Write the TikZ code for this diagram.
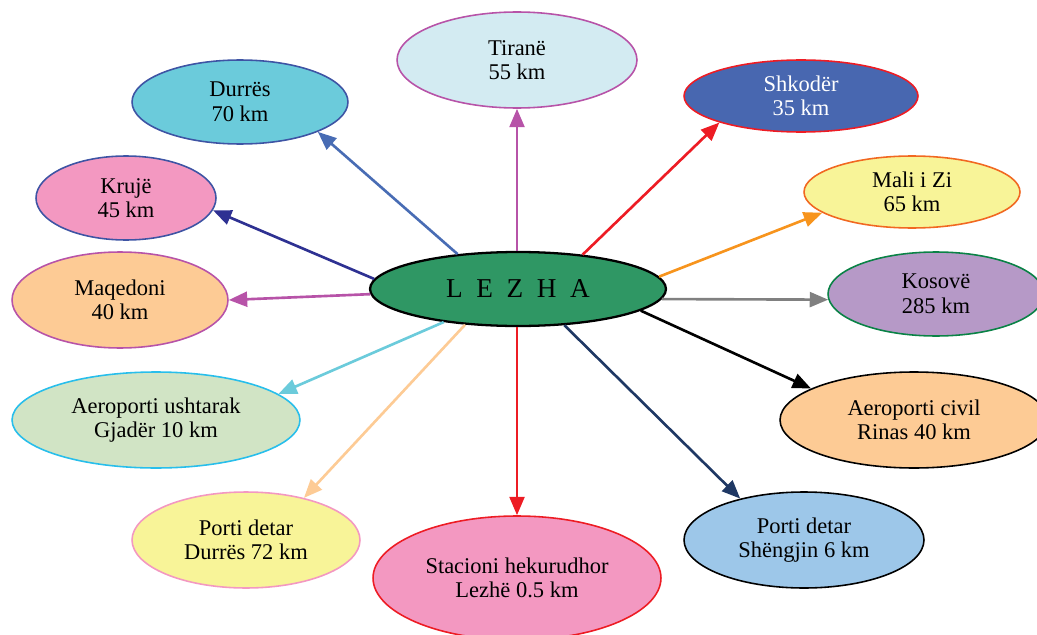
\documentclass[tikz,border=0pt]{standalone}
\usepackage{fontspec}
\setmainfont{Liberation Serif}
\usetikzlibrary{arrows.meta, shapes.geometric}
\definecolor{cPurple}{RGB}{183,83,168}
\definecolor{cBlue}{RGB}{62,84,164}
\definecolor{cRed}{RGB}{237,28,36}
\definecolor{cOrange}{RGB}{241,104,33}
\definecolor{cGreen}{RGB}{10,130,70}
\definecolor{cSky}{RGB}{40,190,235}
\definecolor{cPink}{RGB}{243,152,193}
\definecolor{fTirane}{RGB}{211,235,242}
\definecolor{fDurres}{RGB}{107,203,219}
\definecolor{fShkoder}{RGB}{72,103,176}
\definecolor{fYellow}{RGB}{248,244,152}
\definecolor{fPeach}{RGB}{253,203,149}
\definecolor{fLezha}{RGB}{47,151,100}
\definecolor{fKosove}{RGB}{182,153,199}
\definecolor{fSage}{RGB}{209,228,197}
\definecolor{fLight}{RGB}{157,199,233}
\definecolor{aBlue}{RGB}{72,108,180}
\definecolor{aNavy}{RGB}{46,49,146}
\definecolor{aOrange}{RGB}{247,148,29}
\definecolor{aGray}{RGB}{128,128,128}
\definecolor{aDark}{RGB}{31,56,100}
\tikzset{>={Triangle[length=10.5pt,width=8.5pt]}}
\tikzset{city/.style={ellipse, draw, line width=0.9pt, align=center, inner sep=0pt,
  font=\fontsize{12.8}{14}\selectfont}}

\begin{document}
\begin{tikzpicture}[x=0.02cm, y=-0.02cm, line width=1.5pt]
		\useasboundingbox (0,0) rectangle (1037,635);
		\node[city, fill=fTirane, draw=cPurple, minimum width=4.8cm, minimum height=1.92cm] (T) at (517,60) {Tiranë\\55 km};
		\node[city, fill=fDurres, draw=cBlue, minimum width=4.32cm, minimum height=1.68cm] (D) at (240,102) {Durrës\\70 km};
		\node[city, fill=fShkoder, draw=cRed, text=white, minimum width=4.68cm, minimum height=1.44cm] (S) at (801,96) {Shkodër\\35 km};
		\node[city, fill=cPink, draw=cBlue, minimum width=3.6cm, minimum height=1.68cm] (K) at (126,198) {Krujë\\45 km};
		\node[city, fill=fYellow, draw=cOrange, minimum width=4.32cm, minimum height=1.44cm] (MZ) at (912,192) {Mali i Zi\\65 km};
		\node[city, fill=fPeach, draw=cPurple, minimum width=4.32cm, minimum height=1.92cm] (MQ) at (120,300) {Maqedoni\\40 km};
		\node[city, fill=fKosove, draw=cGreen, minimum width=4.32cm, minimum height=1.68cm] (KS) at (936,294) {Kosovë\\285 km};
		\node[city, fill=fSage, draw=cSky, minimum width=5.76cm, minimum height=1.92cm] (AU) at (156,420) {Aeroporti ushtarak\\Gjadër 10 km};
		\node[city, fill=fPeach, draw=black, minimum width=5.36cm, minimum height=1.92cm] (AC) at (914,420) {Aeroporti civil\\Rinas 40 km};
		\node[city, fill=fYellow, draw=cPink, minimum width=4.56cm, minimum height=1.92cm] (PD) at (246,540) {Porti detar\\Durrës 72 km};
		\node[city, fill=cPink, draw=cRed, minimum width=5.76cm, minimum height=2.48cm] (SH) at (517,578) {Stacioni hekurudhor\\Lezhë 0.5 km};
		\node[city, fill=fLight, draw=black, minimum width=4.8cm, minimum height=1.92cm] (PS) at (804,540) {Porti detar\\Shëngjin 6 km};
		\node[city, fill=fLezha, draw=black, line width=1.3pt, minimum width=5.92cm, minimum height=1.48cm,
		  font=\fontsize{15.5}{18}\selectfont] (L) at (518,289) {L\enspace E\enspace Z\enspace H\enspace A};
		% lidhjet
		\draw[->, aBlue] (L.150) -- (D.-21);
		\draw[->, cPurple] (L.north -| T.south) -- (T.south);
		\draw[->, cRed] (L.28) -- (S.198);
		\draw[->, aNavy] (L.176) -- (K.-8);
		\draw[->, aOrange] (L.5) -- (MZ.193);
		\draw[->, cPurple] (L.182) -- (MQ.east);
		\draw[->, aGray] (L.-4) -- (KS.183);
		\draw[->, black] (L.-10) -- (AC.163);
		\draw[->, fDurres] (L.204) -- (AU.12);
		\draw[->, fPeach] (L.214) -- (PD.36);
		\draw[->, cRed] (L.south -| SH.north) -- (SH.north);
		\draw[->, aDark] (L.-38) -- (PS.147);
\end{tikzpicture}
\end{document}
